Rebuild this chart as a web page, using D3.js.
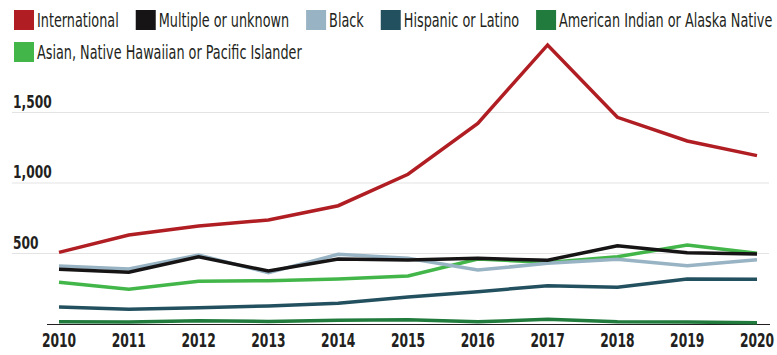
<html>
  <head>
    <script src="https://cdn.jsdelivr.net/npm/d3@7"></script>
    <style>
      body { margin: 0; background: #fff; }
      text { font-family: "DejaVu Sans Condensed", "Liberation Sans Narrow", "Roboto Condensed", sans-serif; fill: #231f20; }
    </style>
  </head>
  <body>
    <svg id="container" height="355" width="777"></svg>
  </body>
  <script>
    const years = [2010, 2011, 2012, 2013, 2014, 2015, 2016, 2017, 2018, 2019, 2020];
    const seriesNames = ["International", "Multiple or unknown", "Black", "Hispanic or Latino",
      "American Indian or Alaska Native", "Asian, Native Hawaiian or Pacific Islander"];
    const seriesColors = ["#b01e23", "#161414", "#98b3c3", "#23505f", "#217b3d", "#42b649"];
    const international = [508, 631, 695, 738, 839, 1062, 1423, 1979, 1466, 1298, 1194];
    const multiple = [388, 367, 477, 376, 461, 454, 466, 452, 555, 506, 496];
    const black = [411, 390, 489, 364, 494, 466, 383, 430, 459, 414, 456];
    const hispanic = [121, 104, 116, 128, 147, 191, 229, 272, 260, 319, 317];
    const amIndian = [16, 15, 23, 18, 26, 30, 16, 33, 16, 14, 9];
    const asian = [296, 246, 303, 307, 319, 340, 461, 437, 477, 560, 501];
    const yTicks = [500, 1000, 1500];

    const seriesValues = [international, multiple, black, hispanic, amIndian, asian];
    const svg = d3.select("#container");

    // narrow text: squeeze the fallback font horizontally (k) around its own anchor
    function narrowText(parent, str, px, py, size, k, opts = {}) {
      const t = parent.append("text")
        .attr("transform", `translate(${px},${py}) scale(${k},1)`)
        .attr("font-size", size)
        .attr("font-weight", opts.bold ? "bold" : null)
        .attr("text-anchor", opts.anchor || "start")
        .text(str);
      return t;
    }

    const x = d3.scaleLinear().domain([2010, 2020]).range([59, 757]);
    const y = d3.scaleLinear().domain([0, 1500]).range([324, 112.5]);

    // gridlines + labels
    const grid = svg.append("g");
    grid.selectAll("line").data(yTicks).enter().append("line")
      .attr("x1", 12).attr("x2", 769)
      .attr("y1", d => y(d)).attr("y2", d => y(d))
      .attr("stroke", "#e3e3e3").attr("stroke-width", 1);
    yTicks.forEach(d => narrowText(grid, d3.format(",")(d), 13, y(d) - 5, 17, 0.8, { bold: true }));

    // x axis
    svg.append("line").attr("x1", 47).attr("x2", 770).attr("y1", 324.5).attr("y2", 324.5)
      .attr("stroke", "#231f20").attr("stroke-width", 1);
    const xAxis = svg.append("g");
    years.forEach(d => narrowText(xAxis, d, x(d), 347, 19, 0.72, { bold: true, anchor: "middle" }));

    // lines, drawn in reverse legend order
    const line = d3.line().x((d, i) => x(years[i])).y(d => y(d));
    const order = d3.range(seriesNames.length).reverse();
    svg.append("g").selectAll("path").data(order).enter().append("path")
      .attr("d", i => line(seriesValues[i]))
      .attr("fill", "none").attr("stroke", i => seriesColors[i])
      .attr("stroke-width", 3.5).attr("stroke-linejoin", "miter");

    // legend
    const legend = svg.append("g");
    const kLegend = 0.75;
    let lx = 14, ly = 10;
    seriesNames.forEach((name, i) => {
      const g = legend.append("g");
      const t = narrowText(g, name, 0, 0, 19, kLegend);
      const w = t.node().getComputedTextLength() * kLegend;
      if (lx + 23 + w > 777) { lx = 14; ly += 32; }
      g.append("rect").attr("x", lx).attr("y", ly).attr("width", 20).attr("height", 20)
        .attr("fill", seriesColors[i]);
      t.attr("transform", `translate(${lx + 23},${ly + 17}) scale(${kLegend},1)`);
      lx += 23 + w + 17;
    });
  </script>
</html>
